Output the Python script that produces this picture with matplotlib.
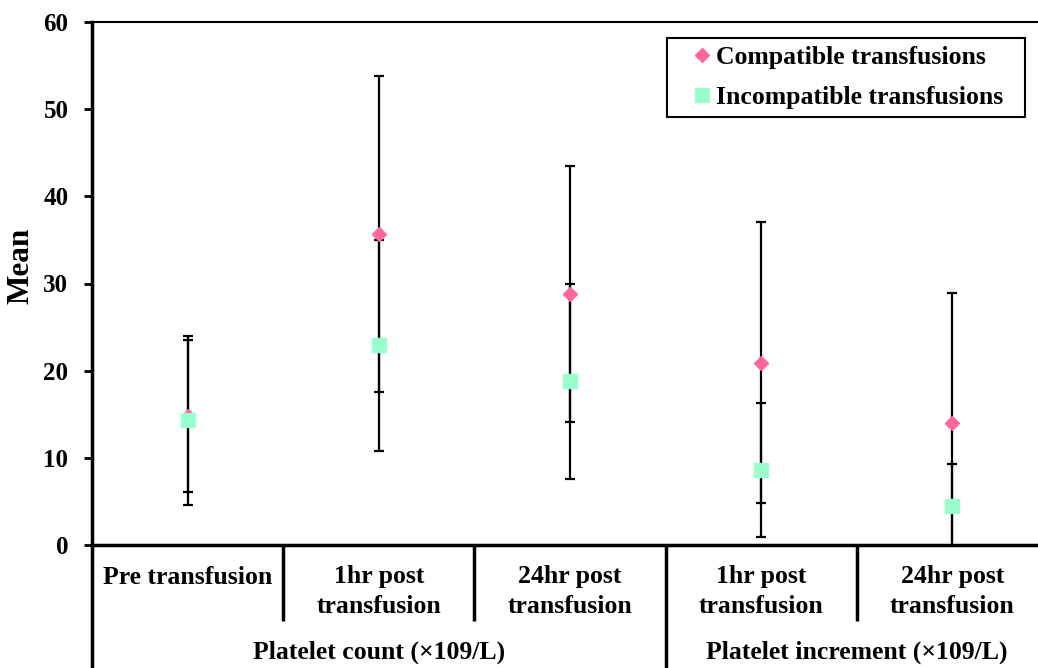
import matplotlib.pyplot as plt
import matplotlib.transforms as mtransforms
import numpy as np

# values
categories = ['Pre transfusion', '1hr post\ntransfusion', '24hr post\ntransfusion',
              '1hr post\ntransfusion', '24hr post\ntransfusion']
groups = ['Platelet count (\u00d7109/L)', 'Platelet increment (\u00d7109/L)']
group_spans = [(0, 3), (3, 5)]

compatible_mean = [14.8, 35.7, 28.8, 20.9, 14.0]
compatible_sd = [8.7, 18.1, 14.7, 16.1, 14.9]
incompatible_mean = [14.3, 22.9, 18.8, 8.6, 4.5]
incompatible_sd = [9.7, 12.1, 11.2, 7.7, 4.8]

pink = '#FF6699'
mint = '#99FFCC'

plt.rcParams['font.family'] = ['Liberation Serif', 'DejaVu Serif']
plt.rcParams['font.weight'] = 'bold'
plt.rcParams['font.size'] = 18.5

W, H = 1038, 668
fig = plt.figure(figsize=(W / 100, H / 100), dpi=100)
ax = fig.add_axes([92 / W, (H - 545) / H, 956 / W, 523 / H])

x = np.arange(len(categories)) + 0.5

# error bars first, markers on top
ax.errorbar(x, compatible_mean, yerr=compatible_sd, fmt='none', ecolor='black',
            elinewidth=1.6, capsize=3.4, capthick=1.6, zorder=2)
ax.errorbar(x, incompatible_mean, yerr=incompatible_sd, fmt='none', ecolor='black',
            elinewidth=1.6, capsize=3.4, capthick=1.6, zorder=2)
ax.plot(x, compatible_mean, ls='none', marker='D', ms=7, color=pink, mec=pink,
        label='Compatible transfusions', zorder=3)
ax.plot(x, incompatible_mean, ls='none', marker='s', ms=10, color=mint, mec=mint,
        label='Incompatible transfusions', zorder=3)

ax.set_xlim(0, len(categories))
ax.set_ylim(0, 60)
ax.set_yticks(np.arange(0, 61, 10))
ax.set_xticks([])
ax.tick_params(axis='y', direction='out', length=6, width=2, pad=11, labelsize=18)
for lbl in ax.get_yticklabels():
    lbl.set_fontweight('bold')
fig.text(21 / W, 1 - 266 / H, 'Mean', rotation=90, ha='center', va='center',
         fontsize=22.5, fontweight='bold')

for side in ['left', 'bottom']:
    ax.spines[side].set_linewidth(2.5)
ax.spines['top'].set_linewidth(1.5)
ax.spines['right'].set_linewidth(1.5)

leg = ax.legend(loc='upper left', bbox_to_anchor=(575 / 956, 0, 358 / 956, 1 - 16 / 523),
                mode='expand', numpoints=1, handlelength=2.03, handletextpad=-0.47,
                labelspacing=0.64, borderpad=0.33, fancybox=False, framealpha=1,
                edgecolor='black', borderaxespad=0)
leg.get_frame().set_linewidth(1.5)

# hierarchical category axis below the plot
trans = mtransforms.blended_transform_factory(ax.transData, fig.transFigure)


def fy(px):
    return 1 - px / H


for i, cat in enumerate(categories):
    yc = 577 if '\n' not in cat else 591.5
    ax.text(x[i], fy(yc), cat, transform=trans, ha='center', va='center',
            fontweight='bold', linespacing=1.35)

for g, (a, b) in zip(groups, group_spans):
    ax.text((a + b) / 2, fy(652), g, transform=trans, ha='center', va='center',
            fontweight='bold')

# separator lines
for xs in range(len(categories) + 1):
    bottom = 668 if xs in (0, 3) else 621
    ax.plot([xs, xs], [fy(545), fy(bottom)], transform=trans, color='black',
            lw=2.5, clip_on=False, solid_capstyle='butt')

fig.savefig('out.png', dpi=100)
